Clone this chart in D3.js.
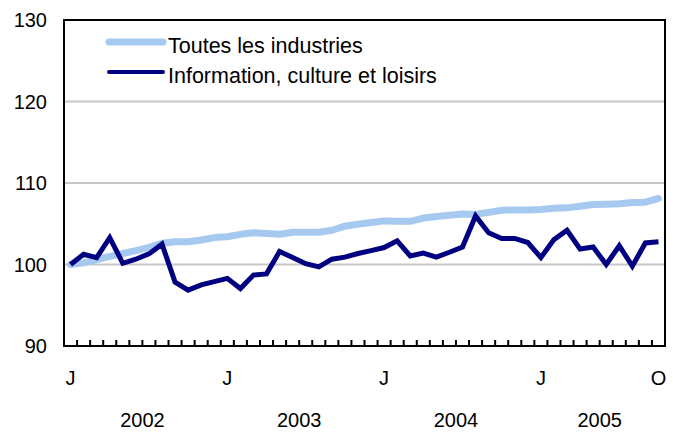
<!DOCTYPE html>
<html>
<head>
<meta charset="utf-8">
<script src="https://cdn.jsdelivr.net/npm/d3@7"></script>
<style>
  html, body { margin: 0; padding: 0; background: #fff; }
  text { font-family: "Liberation Sans", Arial, Helvetica, sans-serif; fill: #000; }
</style>
</head>
<body>
<svg id="chart" width="673" height="435"></svg>
<script>
// Monthly index, January 2002 = 100, Jan 2002 .. Oct 2005
const months = d3.range(46);
const toutes = [100.0,100.2,100.6,101.0,101.35,101.7,102.1,102.6,102.8,102.8,103.0,103.3,
                103.4,103.7,103.9,103.8,103.7,103.95,103.95,103.95,104.2,104.7,104.95,105.15,
                105.35,105.3,105.3,105.7,105.9,106.05,106.2,106.15,106.4,106.65,106.7,106.7,
                106.75,106.9,106.95,107.15,107.35,107.4,107.45,107.6,107.65,108.1];
const info =   [100.0,101.25,100.85,103.3,100.15,100.65,101.3,102.5,97.85,96.85,97.5,97.9,
                98.3,97.05,98.7,98.85,101.6,100.85,100.1,99.7,100.65,100.9,101.35,101.7,
                102.08,102.9,101.05,101.4,100.9,101.5,102.15,105.95,103.9,103.2,103.2,102.7,
                100.85,103.05,104.2,101.9,102.15,100.0,102.3,99.8,102.65,102.8];
const yTicks = [90, 100, 110, 120, 130];
const gridValues = [100, 110, 120];
const monthLabels = [{i:0,t:"J"},{i:12,t:"J"},{i:24,t:"J"},{i:36,t:"J"},{i:45,t:"O"}];
const years = [{y:"2002",a:0,b:11},{y:"2003",a:12,b:23},{y:"2004",a:24,b:35},{y:"2005",a:36,b:45}];
const seriesNames = ["Toutes les industries", "Information, culture et loisirs"];
const colors = ["#A6C9F0", "#000080"];

const svg = d3.select("#chart");
const L = 64, R = 665, T = 20, B = 346;

const x = d3.scaleBand().domain(months).range([L, R]).padding(0);
const y = d3.scaleLinear().domain([90, 130]).range([B, T]);
const cx = i => x(i) + x.bandwidth() / 2;

// gridlines
svg.append("g").selectAll("line").data(gridValues).join("line")
  .attr("x1", L).attr("x2", R)
  .attr("y1", d => y(d)).attr("y2", d => y(d))
  .attr("stroke", "#C8C8C8").attr("stroke-width", 2);

// y labels
svg.append("g").selectAll("text").data(yTicks).join("text")
  .attr("x", 47).attr("y", d => y(d)).attr("dy", "0.36em")
  .attr("text-anchor", "end").attr("font-size", 20)
  .text(d => d);

// x ticks (month boundaries, inward)
const tickPos = d3.range(1, 46).map(i => x(i));
svg.append("g").selectAll("line").data(tickPos).join("line")
  .attr("x1", d => d).attr("x2", d => d)
  .attr("y1", B).attr("y2", B - 6)
  .attr("stroke", "#000").attr("stroke-width", 2);

// month labels
svg.append("g").selectAll("text").data(monthLabels).join("text")
  .attr("x", d => cx(d.i)).attr("y", 385)
  .attr("text-anchor", "middle").attr("font-size", 20)
  .text(d => d.t);

// year labels
svg.append("g").selectAll("text").data(years).join("text")
  .attr("x", d => (x(d.a) + x(d.b) + x.bandwidth()) / 2).attr("y", 427)
  .attr("text-anchor", "middle").attr("font-size", 20)
  .text(d => d.y);

// lines
const line = d3.line().x((d, i) => cx(i)).y(d => y(d));
svg.append("path").datum(toutes).attr("d", line)
  .attr("fill", "none").attr("stroke", colors[0]).attr("stroke-width", 7)
  .attr("stroke-linejoin", "round").attr("stroke-linecap", "round");
svg.append("path").datum(info).attr("d", line)
  .attr("fill", "none").attr("stroke", colors[1]).attr("stroke-width", 5)
  .attr("stroke-linejoin", "miter").attr("stroke-linecap", "butt");

// frame
svg.append("rect").attr("x", L).attr("y", T).attr("width", R - L).attr("height", B - T)
  .attr("fill", "none").attr("stroke", "#000").attr("stroke-width", 2);

// legend
const leg = svg.append("g");
const legY = [42, 72];
const legW = [7, 4];
seriesNames.forEach((name, k) => {
  leg.append("line").attr("x1", 109).attr("x2", 163)
    .attr("y1", legY[k]).attr("y2", legY[k])
    .attr("stroke", colors[k]).attr("stroke-width", legW[k]).attr("stroke-linecap", "round");
  leg.append("text").attr("x", 168).attr("y", legY[k] + 11)
    .attr("font-size", 21.5).text(name);
});
</script>
</body>
</html>
